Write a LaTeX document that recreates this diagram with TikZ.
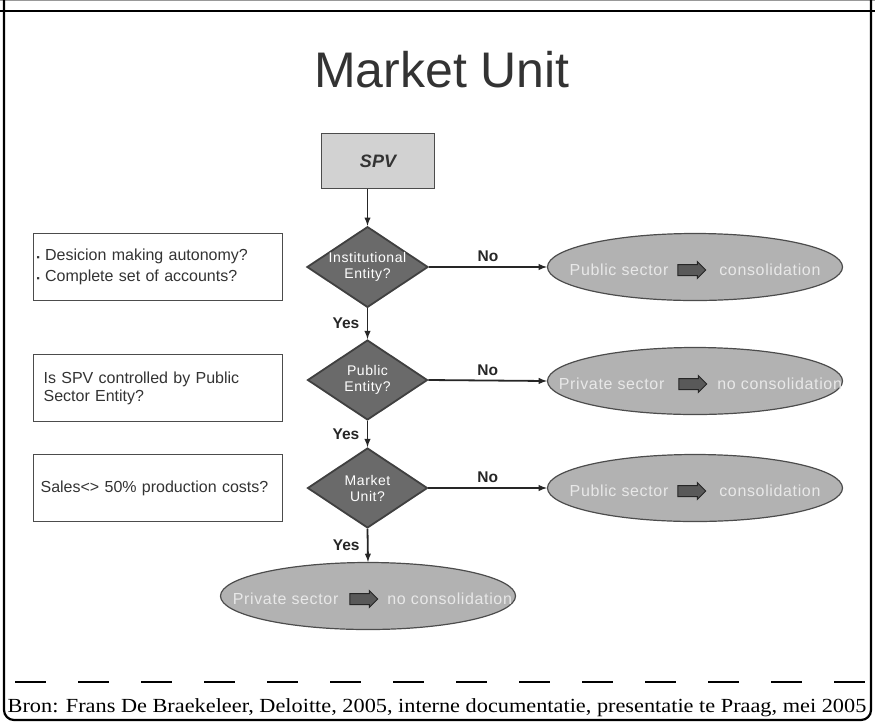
\documentclass[tikz,border=0pt]{standalone}
\usepackage{fontspec}
\setmainfont{Liberation Serif}
\newfontfamily\arial{Liberation Sans}
\newfontfamily\arialsp[LetterSpace=4]{Liberation Sans}
\usetikzlibrary{positioning,shapes.geometric,shapes.arrows}

\definecolor{boxgray}{HTML}{D2D2D2}
\definecolor{diagray}{HTML}{6A6A6A}
\definecolor{ellgray}{HTML}{B2B2B2}
\definecolor{elltext}{HTML}{E8E8E8}
\definecolor{ink}{HTML}{333333}

\tikzset{
  question/.style={diamond,draw=black!75,fill=diagray,aspect=1.5,minimum width=120pt,minimum height=80pt,inner sep=0pt,align=center,text=white,font=\arialsp\fontsize{14}{16}\selectfont},
  outcome/.style={ellipse,draw=black!70,line width=1.2pt,fill=ellgray,minimum width=295pt,minimum height=67pt},
  outtext/.style={text=elltext,font=\arialsp\fontsize{16}{18}\selectfont,inner sep=0pt},
  fat/.style={single arrow,draw=black!85,line width=1pt,fill=black!65,minimum height=28pt,inner xsep=2pt,inner ysep=5pt,single arrow head extend=3pt},
  criterion/.style={draw=black!70,line width=1.2pt,anchor=north west,minimum height=67pt,align=left,text=ink,font=\arial\fontsize{16}{18}\selectfont},
  yesno/.style={font=\arial\bfseries\fontsize{15.5}{17}\selectfont,text=black!85},
}

\begin{document}
\begin{tikzpicture}[>=latex,x=1pt,y=-1pt,line width=1.8pt]
\useasboundingbox (0,0) rectangle (875,724);

% frame
\draw[line width=0.6pt,black!40] (0,0.5)--(875,0.5);
\draw[line width=2.2pt] (0,11)--(875,11);
\draw[line width=2.2pt,rounded corners=10pt] (4,0)--(4,720)--(871,720)--(871,0);
\draw[line width=2.2pt,dash pattern=on 31pt off 32pt] (15,682)--(871,682);

\node[anchor=base,text=ink,font=\arial\fontsize{50}{56}\selectfont] (title) at (442,87) {Market Unit};

\node[draw=black!70,line width=1.2pt,fill=boxgray,minimum width=113pt,minimum height=55pt,text=ink,font=\arial\bfseries\itshape\fontsize{18}{20}\selectfont] (spv) at (378,161) {SPV};

\node[question] (d1) at (367.5,267) {Institutional\\Entity?};
\node[question] (d2) at (367.5,380) {Public\\Entity?};
\node[question] (d3) at (367.5,488) {Market\\Unit?};

\node[outcome] (e1) at (695,267) {};
\node[outcome] (e2) at (695,381) {};
\node[outcome] (e3) at (695,488) {};
\node[outcome] (e4) at (368,596) {};

\node[fat] (a1) at ([xshift=-6pt,yshift=-3pt]e1.center) {};
\node[outtext,left=8pt of a1] (l1) {Public sector};
\node[outtext,right=12pt of a1] (r1) {consolidation};
\node[fat] (a2) at ([xshift=-5pt,yshift=-3pt]e2.center) {};
\node[outtext,left=13pt of a2] (l2) {Private sector};
\node[outtext,right=9pt of a2] (r2) {no consolidation};
\node[fat] (a3) at ([xshift=-6pt,yshift=-3pt]e3.center) {};
\node[outtext,left=8pt of a3] (l3) {Public sector};
\node[outtext,right=12pt of a3] (r3) {consolidation};
\node[fat] (a4) at ([xshift=-7pt,yshift=-3pt]e4.center) {};
\node[outtext,left=10pt of a4] (l4) {Private sector};
\node[outtext,right=8pt of a4] (r4) {no consolidation};

\node[criterion,text width=243pt,inner xsep=3pt] (c1) at (33,233) {{\fontsize{9}{9}\selectfont ▪} Desicion making autonomy?\\[3pt]{\fontsize{9}{9}\selectfont ▪} Complete set of accounts?};
\node[criterion,text width=229pt,inner xsep=10pt] (c2) at (33,354) {Is SPV controlled by Public\\Sector Entity?};
\node[criterion,text width=235pt,inner xsep=7pt] (c3) at (33,454) {\raisebox{-3pt}{Sales<> 50\% production costs?}};

\draw[->,black!85] (spv.south -| d1.north)--(d1.north);
\draw[->,black!85] (d1.east)--(e1.west) node[midway,above=1pt,yesno]{No};
\draw[->,black!85] (d2.east)--(e2.west) node[midway,above=1pt,yesno]{No};
\draw[->,black!85] (d3.east)--(e3.west) node[midway,above=1pt,yesno]{No};
\draw[->,black!85] (d1.south)--(d2.north) node[midway,left=4pt,yesno]{Yes};
\draw[->,black!85] (d2.south)--(d3.north) node[midway,left=4pt,yesno]{Yes};
\draw[->,black!85] (d3.south)--(e4.north) node[midway,left=4pt,yesno]{Yes};

\node[font=\fontsize{20}{22}\selectfont,anchor=base] (src) at (437,712) {\scalebox{1.115}[1]{Bron: Frans De Braekeleer, Deloitte, 2005, interne documentatie, presentatie te Praag, mei 2005}};
\end{tikzpicture}
\end{document}
